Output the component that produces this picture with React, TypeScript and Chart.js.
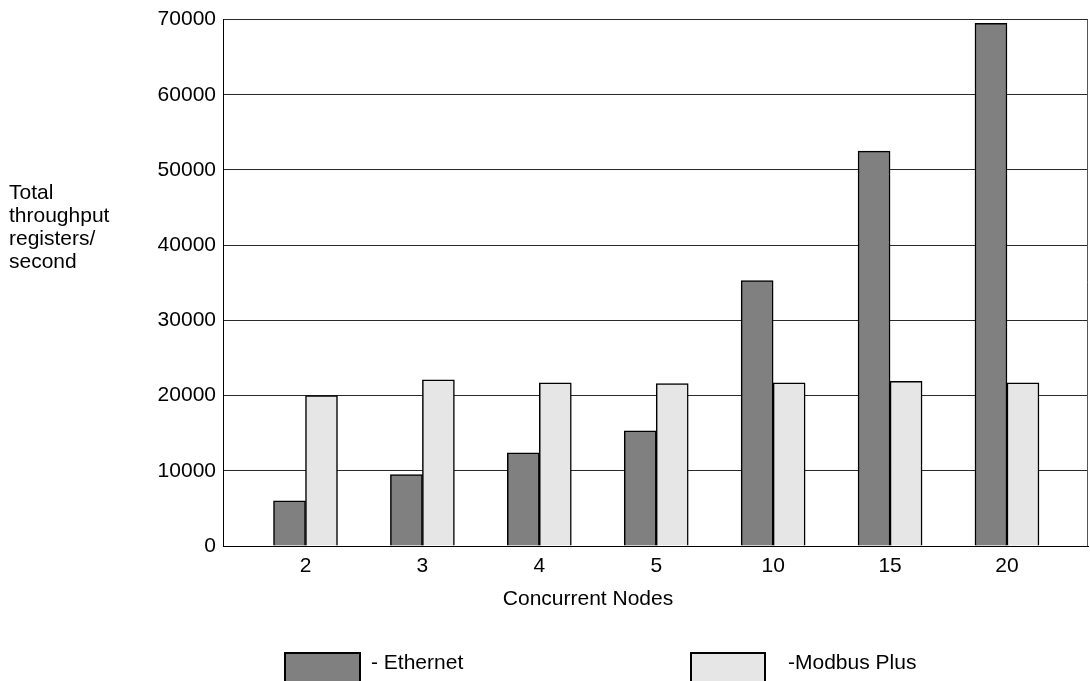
import React, { useEffect, useRef } from "react";
import { Chart, registerables } from "chart.js";

Chart.register(...registerables);

const categories = ["2", "3", "4", "5", "10", "15", "20"];
const ethernet = [6000, 9500, 12400, 15300, 35300, 52500, 69500];
const modbus = [20000, 22100, 21700, 21600, 21700, 21900, 21700];
const yTicks = [0, 10000, 20000, 30000, 40000, 50000, 60000, 70000];
const seriesNames = ["- Ethernet", "-Modbus Plus"];
const seriesColors = ["#808080", "#e6e6e6"];

const FONT = "'Liberation Sans', Arial, Helvetica, sans-serif";

const rightBorder = {
  id: "rightBorder",
  afterDraw(chart: any) {
    const { ctx, chartArea } = chart;
    ctx.save();
    ctx.strokeStyle = "#555";
    ctx.lineWidth = 1;
    ctx.beginPath();
    ctx.moveTo(Math.round(chartArea.right) - 0.5, chartArea.top);
    ctx.lineTo(Math.round(chartArea.right) - 0.5, chartArea.bottom);
    ctx.stroke();
    ctx.restore();
  },
};

export default function App() {
  const ref = useRef<HTMLCanvasElement | null>(null);

  useEffect(() => {
    document.body.style.margin = "0";
    document.body.style.overflow = "hidden";
    if (!ref.current) return;
    const chart = new Chart(ref.current, {
      type: "bar",
      data: {
        datasets: [
          {
            label: seriesNames[0],
            data: ethernet.map((v, i) => ({ x: i, y: v })),
            backgroundColor: seriesColors[0],
            borderColor: "#000",
            borderWidth: 1.5,
            barThickness: 32,
          },
          {
            label: seriesNames[1],
            data: modbus.map((v, i) => ({ x: i, y: v })),
            backgroundColor: seriesColors[1],
            borderColor: "#000",
            borderWidth: 1.5,
            barThickness: 32,
          },
        ],
      },
      plugins: [rightBorder],
      options: {
        animation: false,
        responsive: true,
        maintainAspectRatio: false,
        layout: { padding: { top: 17, right: 2, left: 0, bottom: 0 } },
        plugins: {
          legend: { display: false },
          tooltip: { enabled: false },
          title: { display: false },
        },
        scales: {
          x: {
            type: "linear",
            min: -0.7056,
            max: 6.693,
            offset: false,
            afterBuildTicks: (axis: any) => {
              axis.ticks = categories.map((_, i) => ({ value: i }));
            },
            afterFit: (scale: any) => {
              scale.height = 135;
            },
            grid: { display: false, drawTicks: false },
            border: { display: true, color: "#000", width: 1 },
            ticks: {
              padding: 8,
              color: "#000",
              font: { family: FONT, size: 21 },
              callback: (v: any) => categories[v as number] ?? "",
              maxRotation: 0,
            },
          },
          y: {
            min: 0,
            max: 70000,
            afterBuildTicks: (axis: any) => {
              axis.ticks = yTicks.map((v) => ({ value: v }));
            },
            afterFit: (scale: any) => {
              scale.width = 223;
            },
            grid: { color: "#2a2a2a", lineWidth: 1, drawTicks: false },
            border: { display: true, color: "#000", width: 1 },
            ticks: {
              padding: 7,
              color: "#000",
              font: { family: FONT, size: 21 },
              callback: (v: any) => String(v),
            },
          },
        },
      },
    });
    return () => chart.destroy();
  }, []);

  const text: React.CSSProperties = {
    position: "absolute",
    fontFamily: FONT,
    fontSize: 21,
    lineHeight: "23px",
    color: "#000",
    whiteSpace: "nowrap",
  };

  return (
    <div style={{ position: "relative", width: 1090, height: 681, overflow: "hidden", background: "#fff" }}>
      <canvas ref={ref} style={{ position: "absolute", left: 0, top: 0, width: 1090, height: 681 }} />
      <div style={{ ...text, left: 9, top: 180 }}>
        Total
        <br />
        throughput
        <br />
        registers/
        <br />
        second
      </div>
      <div style={{ ...text, left: 588, top: 586, transform: "translateX(-50%)" }}>Concurrent Nodes</div>
      <div
        style={{
          position: "absolute",
          left: 284,
          top: 652,
          width: 73,
          height: 40,
          background: seriesColors[0],
          border: "2px solid #000",
        }}
      />
      <div style={{ ...text, left: 371, top: 650 }}>{seriesNames[0]}</div>
      <div
        style={{
          position: "absolute",
          left: 690,
          top: 652,
          width: 72,
          height: 40,
          background: seriesColors[1],
          border: "2px solid #000",
        }}
      />
      <div style={{ ...text, left: 788, top: 650 }}>{seriesNames[1]}</div>
    </div>
  );
}
